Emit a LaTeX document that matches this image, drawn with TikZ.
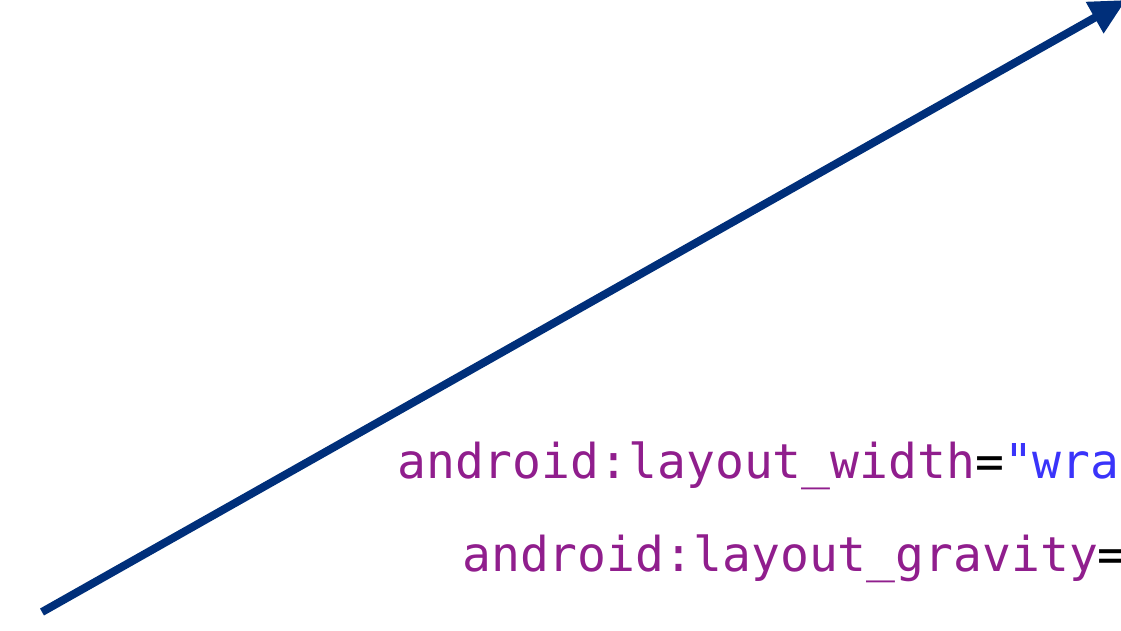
\documentclass[tikz,border=0pt]{standalone}
\usepackage{fontspec}
\usepackage{tikz}
\usetikzlibrary{arrows.meta}
\newfontfamily\codefont{DejaVu Sans Mono}
\definecolor{arrowblue}{RGB}{0,47,122}
\definecolor{attrpurple}{RGB}{144,30,141}
\definecolor{strblue}{RGB}{58,52,250}

\begin{document}
\begin{tikzpicture}[
  pointer/.style={line width=0.2cm, arrowblue, -{Triangle[length=0.9cm, width=0.85cm]}},
  codeline/.style={anchor=base west, inner sep=0pt, font=\codefont\fontsize{34.14}{34.14}\selectfont, text=attrpurple}
]

% Canvas
\useasboundingbox (0,0) rectangle (28.025,15.75);

% Arrow
\coordinate (tail) at (1.05,0.45);
\coordinate (tip) at (28.15,15.75);
\draw[pointer] (tail) -- (tip);

% Code lines
\node[codeline] (widthline) at (9.925,3.8) {android:layout\_width\textcolor{black}{=}\textcolor{strblue}{"wra}};
\node[codeline] (gravityline) at (11.55,1.475) {android:layout\_gravity\textcolor{black}{=}};

\end{tikzpicture}
\end{document}
